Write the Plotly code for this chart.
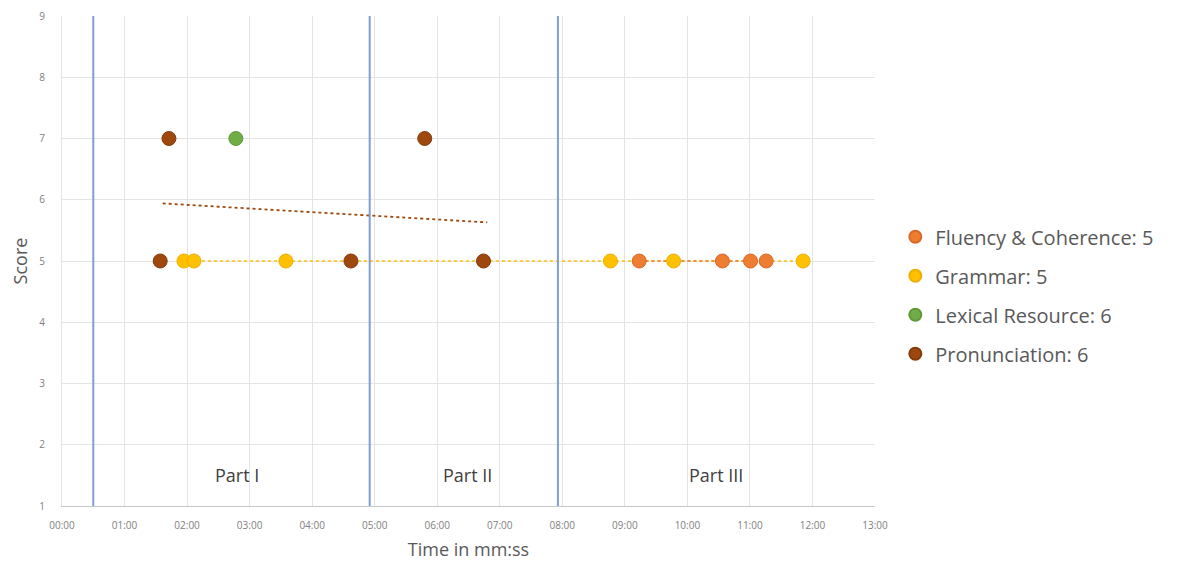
import plotly.graph_objects as go

# ---- data (time in minutes, score) ----
fluency_t = [9.23, 10.56, 11.01, 11.26]
fluency_s = [5, 5, 5, 5]
grammar_t = [1.95, 2.11, 3.58, 8.77, 9.78, 11.85]
grammar_s = [5, 5, 5, 5, 5, 5]
lexical_t = [2.78]
lexical_s = [7]
pron_t = [1.57, 1.71, 4.62, 5.80, 6.74]
pron_s = [5, 7, 5, 7, 5]

# trend lines (endpoints)
pron_trend_t = [1.61, 6.80]
pron_trend_s = [5.94, 5.63]
grammar_trend_t = [1.95, 11.85]
grammar_trend_s = [5, 5]
fluency_trend_t = [9.23, 11.26]
fluency_trend_s = [5, 5]

part_lines = [0.5, 4.92, 7.93]
part_labels = ["Part I", "Part II", "Part III"]
part_label_t = [2.8, 6.49, 10.45]
part_label_s = [1.5, 1.5, 1.5]

x_ticks = list(range(0, 14))
x_tick_labels = [f"{m:02d}:00" for m in x_ticks]
y_ticks = list(range(1, 10))

series = [
    ("Fluency & Coherence: 5", fluency_t, fluency_s, "#ED7D31", "#D9682A"),
    ("Grammar: 5", grammar_t, grammar_s, "#FFC000", "#EDB000"),
    ("Lexical Resource: 6", lexical_t, lexical_s, "#70AD47", "#5E9A3A"),
    ("Pronunciation: 6", pron_t, pron_s, "#9E480E", "#843C0C"),
]

fig = go.Figure()

# trend lines
fig.add_trace(go.Scatter(x=grammar_trend_t, y=grammar_trend_s, mode="lines",
                         line=dict(color="#FFC000", width=1.5, dash="dot"),
                         showlegend=False, hoverinfo="skip"))
fig.add_trace(go.Scatter(x=fluency_trend_t, y=fluency_trend_s, mode="lines",
                         line=dict(color="#ED7D31", width=1.5, dash="dot"),
                         showlegend=False, hoverinfo="skip"))
fig.add_trace(go.Scatter(x=pron_trend_t, y=pron_trend_s, mode="lines",
                         line=dict(color="#9E480E", width=1.8, dash="dot"),
                         showlegend=False, hoverinfo="skip"))

for i, (name, t, s, c, lc) in enumerate(series):
    fig.add_trace(go.Scatter(x=t, y=s, mode="markers", name=name,
                             legendgroup=f"g{i}",
                             marker=dict(color=c, size=14,
                                         line=dict(color=lc, width=1))))

for xv in part_lines:
    fig.add_vline(x=xv, line=dict(color="#7F9ED8", width=2), layer="above")

for txt, xt, yt in zip(part_labels, part_label_t, part_label_s):
    fig.add_annotation(x=xt, y=yt, text=txt, showarrow=False,
                       font=dict(size=18, color="#404040", family="Open Sans"))

fig.update_layout(
    width=1179, height=568,
    margin=dict(l=54, r=312, t=8, b=70),
    paper_bgcolor="white", plot_bgcolor="white",
    font=dict(family="Open Sans", color="#595959"),
    legend=dict(x=1.025, y=0.43, xanchor="left", yanchor="middle",
                font=dict(size=20, color="#595959"),
                tracegroupgap=10, itemsizing="constant"),
    xaxis=dict(range=[0, 13], tickmode="array", tickvals=x_ticks,
               ticktext=x_tick_labels, tickfont=dict(size=10, color="#808080"),
               showgrid=True, gridcolor="#E4E4E4", gridwidth=1,
               showline=True, linecolor="#C8C8C8", linewidth=1,
               zeroline=False, ticks="", automargin=False, ticklabelstandoff=10,
               title=dict(text="Time in mm:ss", font=dict(size=18, color="#595959"),
                          standoff=12)),
    yaxis=dict(range=[1, 9], tickmode="array", tickvals=y_ticks,
               tickfont=dict(size=10, color="#808080"),
               showgrid=True, gridcolor="#E4E4E4", gridwidth=1,
               showline=True, linecolor="#E4E4E4", zeroline=False, ticks="",
               automargin=False, ticklabelstandoff=14,
               title=dict(text="Score", font=dict(size=18, color="#595959"),
                          standoff=12)),
)

fig.write_html("out.html")
